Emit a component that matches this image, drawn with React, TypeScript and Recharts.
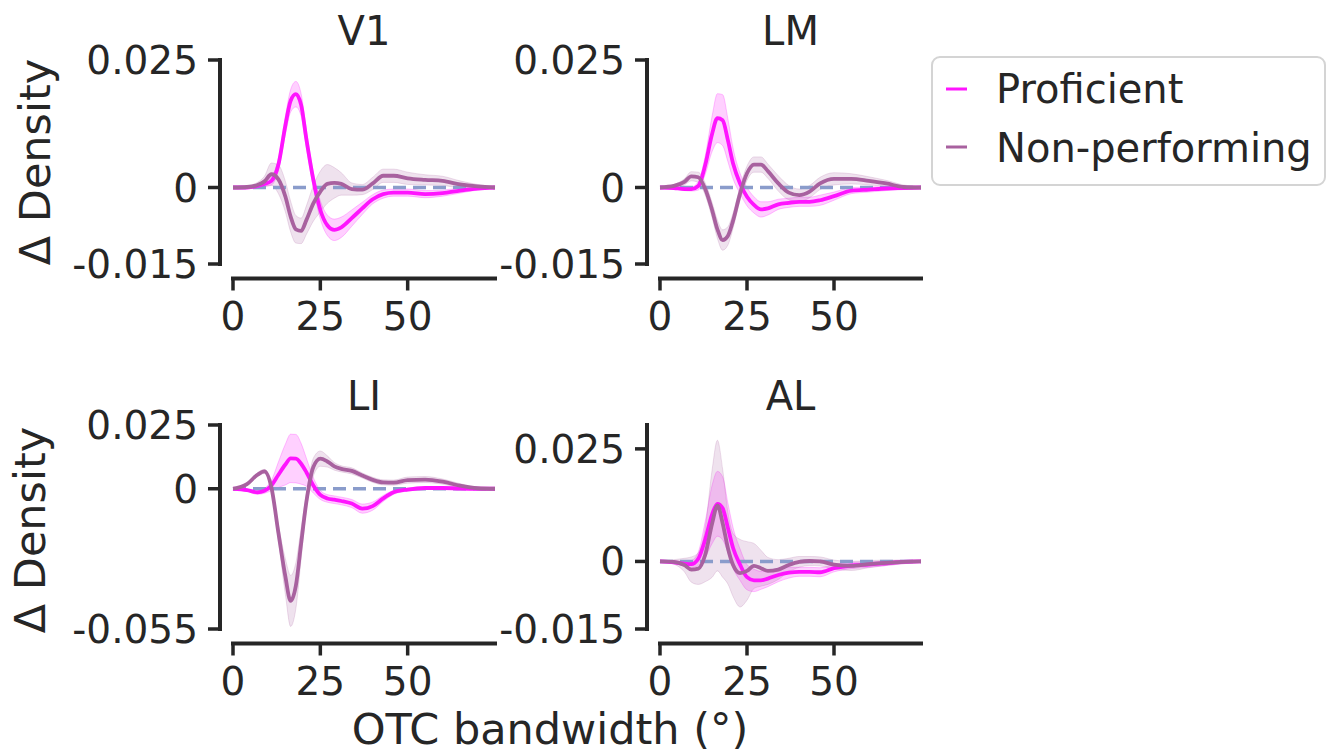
import { ComposedChart, Area, Line, XAxis, YAxis, ReferenceLine } from 'recharts'

// OTC bandwidth sample points (deg)
const bandwidth = [0, 4, 7, 9, 11, 13, 15, 16.5, 18, 19.5, 21, 23, 25, 27, 29, 31, 34, 37, 40, 43, 46, 50, 55, 60, 65, 70, 75]

const v1Proficient = [0, 0, 0.0003, 0.0007, 0.0013, 0.0045, 0.0122, 0.017, 0.0183, 0.0162, 0.0095, 0.0015, -0.0044, -0.0074, -0.0083, -0.0078, -0.006, -0.0041, -0.0023, -0.0013, -0.001, -0.001, -0.0013, -0.0011, -0.0006, -0.0002, 0]
const v1ProficientErr = [0, 0.0002, 0.0003, 0.0005, 0.0008, 0.0012, 0.0018, 0.0022, 0.0025, 0.0022, 0.0018, 0.0015, 0.0018, 0.002, 0.0021, 0.002, 0.0016, 0.0012, 0.0009, 0.0008, 0.0007, 0.0007, 0.0007, 0.0006, 0.0005, 0.0003, 0.0002]
const v1NonPerforming = [0, 0.0001, 0.0005, 0.0012, 0.0026, 0.0016, -0.0018, -0.0057, -0.0082, -0.0085, -0.0064, -0.0031, -0.0008, 0.0007, 0.0009, 0.0007, -0.0003, -0.0004, 0.0008, 0.0023, 0.0023, 0.0018, 0.0015, 0.0013, 0.0006, 0.0002, 0]
const v1NonPerformingErr = [0, 0.0002, 0.0005, 0.001, 0.0022, 0.0028, 0.003, 0.003, 0.0027, 0.0025, 0.0028, 0.0035, 0.004, 0.0038, 0.003, 0.0022, 0.0012, 0.001, 0.0012, 0.0013, 0.0013, 0.0012, 0.001, 0.0009, 0.0007, 0.0004, 0.0002]

const lmProficient = [0, -0.0001, -0.0003, -0.0003, 0.0003, 0.0044, 0.0106, 0.0136, 0.0132, 0.0093, 0.0047, 0.0008, -0.0018, -0.0034, -0.0043, -0.0041, -0.0033, -0.003, -0.0028, -0.0028, -0.0025, -0.0017, -0.0006, -0.0004, -0.0002, -0.0001, 0]
const lmProficientErr = [0, 0.0002, 0.0003, 0.0004, 0.0008, 0.0018, 0.0035, 0.0048, 0.005, 0.0042, 0.003, 0.002, 0.0018, 0.0016, 0.0015, 0.0013, 0.001, 0.0009, 0.0009, 0.0009, 0.001, 0.0008, 0.0006, 0.0005, 0.0004, 0.0003, 0.0002]
const lmNonPerforming = [0, 0.0003, 0.0011, 0.0022, 0.002, -0.0003, -0.0045, -0.0082, -0.0103, -0.0095, -0.0065, -0.0012, 0.0028, 0.0045, 0.0045, 0.0032, 0.0008, -0.001, -0.0015, -0.0008, 0.0008, 0.0017, 0.0017, 0.0013, 0.0008, 0.0001, 0]
const lmNonPerformingErr = [0, 0.0003, 0.0006, 0.0009, 0.001, 0.0012, 0.0015, 0.0018, 0.002, 0.0018, 0.0015, 0.0013, 0.0014, 0.0015, 0.0015, 0.0014, 0.0015, 0.0014, 0.0012, 0.0012, 0.0012, 0.0012, 0.001, 0.0008, 0.0006, 0.0004, 0.0002]

const liProficient = [0, -0.0005, -0.0014, -0.0008, 0.0013, 0.0055, 0.0095, 0.0119, 0.0118, 0.0098, 0.0065, 0.0013, -0.0024, -0.0038, -0.0043, -0.0048, -0.0058, -0.0078, -0.0068, -0.0038, -0.0014, -0.0003, 0.0003, 0.0003, 0.0001, 0, 0]
const liProficientErr = [0, 0.0005, 0.0008, 0.001, 0.002, 0.005, 0.008, 0.0095, 0.0095, 0.008, 0.0055, 0.003, 0.0018, 0.0015, 0.0015, 0.0015, 0.0016, 0.0018, 0.0016, 0.0012, 0.0008, 0.0006, 0.0005, 0.0004, 0.0003, 0.0002, 0.0001]
const liNonPerforming = [0, 0.0018, 0.0055, 0.0068, 0.0005, -0.0173, -0.0345, -0.044, -0.038, -0.0215, -0.0052, 0.0085, 0.0118, 0.0107, 0.0088, 0.0078, 0.007, 0.0052, 0.0035, 0.0025, 0.0024, 0.0034, 0.0036, 0.0028, 0.0012, 0.0002, 0]
const liNonPerformingErr = [0, 0.0004, 0.0008, 0.0008, 0.001, 0.003, 0.007, 0.01, 0.009, 0.006, 0.003, 0.0035, 0.003, 0.0022, 0.0015, 0.0012, 0.0012, 0.001, 0.001, 0.001, 0.001, 0.0012, 0.0012, 0.001, 0.0008, 0.0004, 0.0002]

const alProficient = [0, -0.0002, -0.0005, -0.0006, 0.0006, 0.0049, 0.0105, 0.0128, 0.0118, 0.0075, 0.003, -0.0007, -0.0035, -0.0042, -0.0042, -0.0038, -0.003, -0.0025, -0.0023, -0.0023, -0.0024, -0.0015, -0.0009, -0.0007, -0.0004, -0.0001, 0]
const alProficientErr = [0, 0.0003, 0.0005, 0.0008, 0.0015, 0.004, 0.0065, 0.0072, 0.007, 0.0055, 0.0045, 0.0035, 0.0028, 0.0025, 0.002, 0.0018, 0.0015, 0.0012, 0.001, 0.001, 0.001, 0.0008, 0.0007, 0.0006, 0.0005, 0.0004, 0.0002]
const alNonPerforming = [0, -0.0001, -0.0008, -0.0018, -0.0016, 0.0015, 0.0085, 0.0124, 0.0085, 0.003, -0.0008, -0.0026, -0.0021, -0.001, -0.0015, -0.0021, -0.0018, -0.0008, -0.0001, 0.0001, 0, -0.0007, -0.001, -0.0006, -0.0003, -0.0001, 0]
const alNonPerformingErr = [0, 0.0005, 0.0015, 0.0028, 0.0035, 0.006, 0.012, 0.0145, 0.012, 0.008, 0.007, 0.0075, 0.0065, 0.005, 0.004, 0.003, 0.0022, 0.0015, 0.0012, 0.001, 0.001, 0.001, 0.001, 0.0008, 0.0006, 0.0004, 0.0002]

const xTicks = [0, 25, 50]
const v1Ticks = [-0.015, 0, 0.025]
const lmTicks = [-0.015, 0, 0.025]
const liTicks = [-0.055, 0, 0.025]
const alTicks = [-0.015, 0, 0.025]

const seriesNames = ['Proficient', 'Non-performing']

const INK = '#262626'
const PROF = '#ff14ff'
const NON = '#a8619f'
const ZERO = '#8a9ccb'
const FONT = "'DejaVu Sans', sans-serif"

const PLOT_H = 204
const TOP_M = 30
const X_AXIS_H = 80
const SPINE_GAP_X = 13
const SPINE_GAP_Y = 14.5

interface PanelProps {
  title: string
  prof: number[]
  profErr: number[]
  non: number[]
  nonErr: number[]
  yDomain: [number, number]
  yTicks: number[]
  left: number
  top: number
  axisWidth: number
  width: number
}

function Panel({ prof, profErr, non, nonErr, yDomain, yTicks, left, top, axisWidth, width }: PanelProps) {
  const data = bandwidth.map((x, i) => ({
    x,
    prof: prof[i],
    profBand: [prof[i] - profErr[i], prof[i] + profErr[i]],
    non: non[i],
    nonBand: [non[i] - nonErr[i], non[i] + nonErr[i]],
  }))
  const spineX = axisWidth - SPINE_GAP_X
  const spineY = TOP_M + PLOT_H + SPINE_GAP_Y

  return (
    <div style={{ position: 'absolute', left, top }}>
      <ComposedChart
        width={width}
        height={TOP_M + PLOT_H + X_AXIS_H}
        data={data}
        margin={{ top: TOP_M, right: 5, bottom: 0, left: 0 }}
      >
        <XAxis
          dataKey="x"
          type="number"
          domain={[0, 75]}
          ticks={xTicks}
          interval={0}
          height={X_AXIS_H}
          axisLine={{ stroke: INK, strokeWidth: 4, strokeLinecap: 'square', transform: `translate(0,${SPINE_GAP_Y})` }}
          tickLine={false}
          tick={(p: any) => (
            <g>
              <line x1={p.x} x2={p.x} y1={spineY} y2={spineY + 12} stroke={INK} strokeWidth={3.5} />
              <text x={p.x} y={spineY + 51.5} textAnchor="middle" fontSize={39} fill={INK} fontFamily={FONT}>
                {String(p.payload.value)}
              </text>
            </g>
          )}
        />
        <YAxis
          type="number"
          domain={yDomain}
          ticks={yTicks}
          interval={0}
          width={axisWidth}
          axisLine={{ stroke: INK, strokeWidth: 4, strokeLinecap: 'square', transform: `translate(-${SPINE_GAP_X},0)` }}
          tickLine={false}
          tick={(p: any) => (
            <g>
              <line x1={spineX - 12} x2={spineX} y1={p.y} y2={p.y} stroke={INK} strokeWidth={3.5} />
              <text x={spineX - 22} y={p.y + 14} textAnchor="end" fontSize={39} fill={INK} fontFamily={FONT}>
                {String(p.payload.value)}
              </text>
            </g>
          )}
        />
        <ReferenceLine y={0} stroke={ZERO} strokeWidth={3.5} strokeDasharray="13 7" />
        <Area dataKey="profBand" type="monotone" stroke={PROF} strokeOpacity={0.25} strokeWidth={1} fill={PROF} fillOpacity={0.2} isAnimationActive={false} />
        <Area dataKey="nonBand" type="monotone" stroke={NON} strokeOpacity={0.2} strokeWidth={1} fill={NON} fillOpacity={0.18} isAnimationActive={false} />
        <Line dataKey="prof" type="monotone" stroke={PROF} strokeWidth={3.8} dot={false} activeDot={false} isAnimationActive={false} />
        <Line dataKey="non" type="monotone" stroke={NON} strokeWidth={3.8} dot={false} activeDot={false} isAnimationActive={false} />
      </ComposedChart>
    </div>
  )
}

const panels: PanelProps[] = [
  { title: 'V1', prof: v1Proficient, profErr: v1ProficientErr, non: v1NonPerforming, nonErr: v1NonPerformingErr, yDomain: [-0.015, 0.025], yTicks: v1Ticks, left: 0, top: 30, axisWidth: 233, width: 500 },
  { title: 'LM', prof: lmProficient, profErr: lmProficientErr, non: lmNonPerforming, nonErr: lmNonPerformingErr, yDomain: [-0.015, 0.025], yTicks: lmTicks, left: 470, top: 30, axisWidth: 190, width: 456 },
  { title: 'LI', prof: liProficient, profErr: liProficientErr, non: liNonPerforming, nonErr: liNonPerformingErr, yDomain: [-0.055, 0.025], yTicks: liTicks, left: 0, top: 395, axisWidth: 233, width: 500 },
  { title: 'AL', prof: alProficient, profErr: alProficientErr, non: alNonPerforming, nonErr: alNonPerformingErr, yDomain: [-0.015, 0.0303], yTicks: alTicks, left: 470, top: 395, axisWidth: 190, width: 456 },
]

export default function App() {
  return (
    <div style={{ position: 'absolute', left: 0, top: 0, width: 1327, height: 755, background: '#fff', overflow: 'hidden' }}>
      {panels.map((p) => (
        <Panel key={p.title} {...p} />
      ))}
      <svg width={1327} height={755} style={{ position: 'absolute', left: 0, top: 0, pointerEvents: 'none' }}>
        {panels.map((p) => {
          const cx = p.left + p.axisWidth + (p.width - 5 - p.axisWidth) / 2
          return (
            <text key={p.title} x={cx} y={p.top + TOP_M - 15} textAnchor="middle" fontSize={40} fill={INK} fontFamily={FONT}>
              {p.title}
            </text>
          )
        })}
        <text transform="translate(50,162) rotate(-90)" textAnchor="middle" fontSize={43} fill={INK} fontFamily={FONT}>Δ Density</text>
        <text transform="translate(45,530) rotate(-90)" textAnchor="middle" fontSize={43} fill={INK} fontFamily={FONT}>Δ Density</text>
        <text x={550} y={744} textAnchor="middle" fontSize={43} fill={INK} fontFamily={FONT}>OTC bandwidth (°)</text>
        <rect x={932} y={57} width={393} height={128} rx={8} fill="#fff" stroke="#d4d4d4" strokeWidth={2} />
        {seriesNames.map((name, i) => (
          <g key={name}>
            <line x1={946} x2={967} y1={89 + i * 58} y2={89 + i * 58} stroke={i === 0 ? PROF : NON} strokeWidth={3} />
            <text x={996} y={103 + i * 58.5} fontSize={40} fill={INK} fontFamily={FONT}>{name}</text>
          </g>
        ))}
      </svg>
    </div>
  )
}
